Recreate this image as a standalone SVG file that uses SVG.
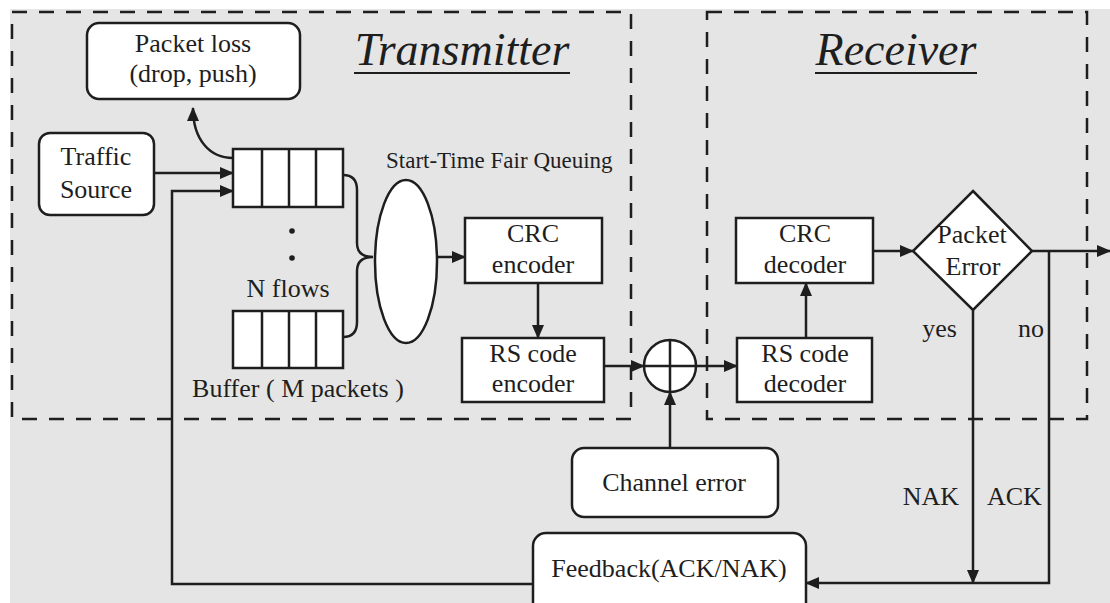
<svg xmlns="http://www.w3.org/2000/svg" width="1110" height="603" viewBox="0 0 1110 603">
<style>
text{font-family:'Liberation Serif','Times New Roman',Tinos,'DejaVu Serif',serif;font-size:26px;fill:#1e1e1e}
.t{text-anchor:middle}
.box{fill:#fff;stroke:#1e1e1e;stroke-width:2.5}
.ln{fill:none;stroke:#1e1e1e;stroke-width:2.5}
.dash{fill:none;stroke:#1e1e1e;stroke-width:2.5;stroke-dasharray:15 12}
.title{font-style:italic;font-size:46px;text-anchor:middle}
</style>
<defs>
<marker id="arr" markerWidth="14" markerHeight="12" refX="13" refY="6" orient="auto" markerUnits="userSpaceOnUse">
<path d="M0,0 L14,6 L0,12 z" fill="#1e1e1e"/>
</marker>
</defs>
<rect x="0" y="0" width="1110" height="603" fill="#fff"/>
<rect x="10" y="9" width="1100" height="594" fill="#e5e5e5"/>

<g id="transmitter">
<rect class="dash" x="12" y="12" width="619" height="407"/>
<text class="title" x="462" y="65">Transmitter</text>
<line x1="354" y1="73" x2="570" y2="73" stroke="#1e1e1e" stroke-width="2.2"/>
</g>
<g id="receiver">
<rect class="dash" x="707" y="12" width="380" height="407"/>
<text class="title" x="896" y="65">Receiver</text>
<line x1="815" y1="73" x2="977" y2="73" stroke="#1e1e1e" stroke-width="2.2"/>
</g>

<g id="connectors">
<path class="ln" d="M233,158 C210,158 193,140 193,108" marker-end="url(#arr)"/>
<line class="ln" x1="154" y1="173" x2="233" y2="173" marker-end="url(#arr)"/>
<path class="ln" d="M533,584 L172,584 L172,191 L233,191" marker-end="url(#arr)"/>
<path class="ln" d="M343,175 Q357,175 357,190 L357,243 Q357,257 373,257 Q357,257 357,271 L357,322 Q357,337 343,337"/>
<line class="ln" x1="437" y1="257" x2="465" y2="257" marker-end="url(#arr)"/>
<line class="ln" x1="538" y1="283" x2="538" y2="338" marker-end="url(#arr)"/>
<line class="ln" x1="604" y1="366" x2="644" y2="366" marker-end="url(#arr)"/>
<line class="ln" x1="696" y1="366" x2="737" y2="366" marker-end="url(#arr)"/>
<line class="ln" x1="670" y1="448" x2="670" y2="392" marker-end="url(#arr)"/>
<line class="ln" x1="806" y1="338" x2="806" y2="283" marker-end="url(#arr)"/>
<line class="ln" x1="873" y1="251" x2="913" y2="251" marker-end="url(#arr)"/>
<line class="ln" x1="1032" y1="251" x2="1110" y2="251" marker-end="url(#arr)"/>
<line class="ln" x1="973" y1="310" x2="973" y2="583" marker-end="url(#arr)"/>
<path class="ln" d="M1049,251 L1049,583 L806,583" marker-end="url(#arr)"/>
<text x="957" y="337" text-anchor="end">yes</text>
<text x="1018" y="337">no</text>
<text x="959" y="505" text-anchor="end">NAK</text>
<text x="987" y="505">ACK</text>
</g>

<g id="packet-loss">
<rect class="box" x="87" y="23" width="213" height="76" rx="12"/>
<text class="t" x="193" y="52">Packet loss</text>
<text class="t" x="193" y="82">(drop, push)</text>
</g>
<g id="traffic-source">
<rect class="box" x="39" y="133" width="115" height="82" rx="11"/>
<text class="t" x="96" y="165">Traffic</text>
<text class="t" x="96" y="198">Source</text>
</g>
<g id="buffer-top">
<rect class="box" x="233" y="149" width="110" height="58"/>
<path class="ln" d="M262,149 V207 M289,149 V207 M316,149 V207"/>
</g>
<g id="flows">
<circle cx="292" cy="231" r="2.8" fill="#1e1e1e"/>
<circle cx="292" cy="258" r="2.8" fill="#1e1e1e"/>
<text class="t" x="288" y="297">N flows</text>
</g>
<g id="buffer-bottom">
<rect class="box" x="233" y="311" width="110" height="57"/>
<path class="ln" d="M262,311 V368 M289,311 V368 M316,311 V368"/>
<text class="t" x="298" y="397">Buffer ( M packets )</text>
</g>
<g id="stfq">
<ellipse class="box" cx="406" cy="261.5" rx="31" ry="81.5"/>
<text x="386" y="168" style="font-size:23px">Start-Time Fair Queuing</text>
</g>
<g id="crc-encoder">
<rect class="box" x="465" y="218" width="137" height="65"/>
<text class="t" x="533" y="242">CRC</text>
<text class="t" x="533" y="273">encoder</text>
</g>
<g id="rs-encoder">
<rect class="box" x="462" y="338" width="142" height="64"/>
<text class="t" x="533" y="362">RS code</text>
<text class="t" x="533" y="392">encoder</text>
</g>
<g id="xor">
<circle class="box" cx="670" cy="366" r="26"/>
<path class="ln" d="M644,366 H696 M670,340 V392"/>
</g>
<g id="rs-decoder">
<rect class="box" x="737" y="338" width="135" height="64"/>
<text class="t" x="805" y="362">RS code</text>
<text class="t" x="805" y="392">decoder</text>
</g>
<g id="crc-decoder">
<rect class="box" x="736" y="218" width="137" height="65"/>
<text class="t" x="805" y="242">CRC</text>
<text class="t" x="805" y="273">decoder</text>
</g>
<g id="packet-error">
<polygon class="box" points="973,191 1032,251 973,310 913,251"/>
<text class="t" x="972" y="243">Packet</text>
<text class="t" x="973" y="275">Error</text>
</g>
<g id="channel-error">
<rect class="box" x="572" y="448" width="206" height="69" rx="12"/>
<text class="t" x="674" y="491">Channel error</text>
</g>
<g id="feedback">
<rect class="box" x="533" y="533" width="273" height="90" rx="13"/>
<text class="t" x="669" y="577">Feedback(ACK/NAK)</text>
</g>
</svg>
